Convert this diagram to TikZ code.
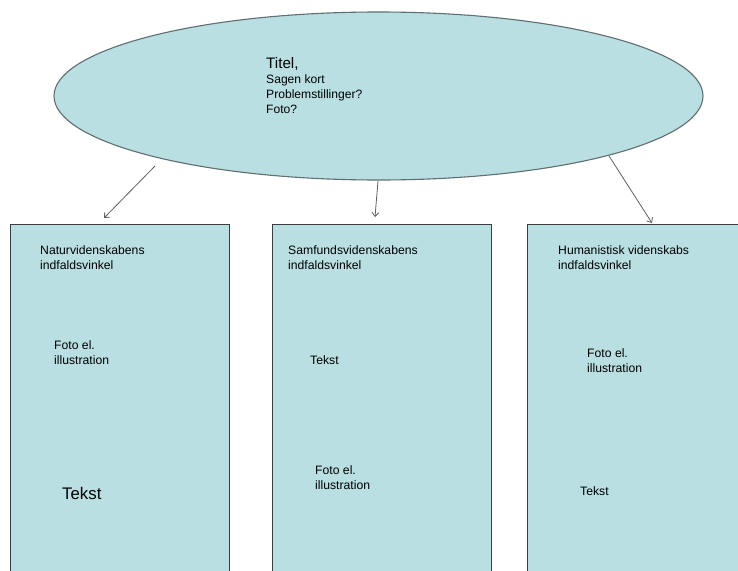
\documentclass[tikz,border=0pt]{standalone}
\usepackage{fontspec}
\setmainfont{Liberation Sans}
\usetikzlibrary{arrows.meta,shapes.geometric}
\definecolor{panelfill}{RGB}{185,223,227}
\definecolor{panelline}{RGB}{58,62,64}
\definecolor{ellline}{RGB}{95,110,112}
\definecolor{arrowgray}{RGB}{95,95,95}
\begin{document}
\begin{tikzpicture}[x=1pt,y=-1pt,
  panelbox/.style={draw=panelline,fill=panelfill,line width=1.1pt,rectangle,inner sep=0pt,anchor=north west},
  topicell/.style={draw=ellline,fill=panelfill,line width=1.1pt,ellipse,inner sep=0pt},
  lbl/.style={anchor=north west,inner sep=0pt,align=left,font=\fontsize{12.2}{15}\selectfont},
  elllbl/.style={anchor=north west,inner sep=0pt,align=left,font=\fontsize{12.1}{15}\selectfont},
  conn/.style={draw=arrowgray,line width=0.8pt,-{Straight Barb[length=4pt,width=7pt]}}]
\useasboundingbox (0,0) rectangle (738,570);
\clip (0,0) rectangle (738,570);
\fill[white] (0,0) rectangle (738,570);

% top ellipse
\node[topicell,minimum width=649pt,minimum height=168pt] (topic) at (378.5,96) {};
\node[anchor=north west,inner sep=0pt,font=\fontsize{15.2}{18}\selectfont] (titel) at (266,57.5) {Titel,};
\node[elllbl] (sagen) at (266,74.5) {Sagen kort\\Problemstillinger?\\Foto?};

% panels
\node[panelbox,minimum width=219pt,minimum height=400pt] (nat) at (10,224) {};
\node[panelbox,minimum width=219pt,minimum height=400pt] (sam) at (272,224) {};
\node[panelbox,minimum width=320pt,minimum height=400pt] (hum) at (527,224) {};

% panel texts
\node[lbl] (natT) at (40,245.5) {Naturvidenskabens\\indfaldsvinkel};
\node[lbl] (natF) at (54,340.5) {Foto el.\\illustration};
\node[anchor=north west,inner sep=0pt,font=\fontsize{16.8}{20}\selectfont] (natX) at (62,487.5) {Tekst};

\node[lbl] (samT) at (288,245.5) {Samfundsvidenskabens\\indfaldsvinkel};
\node[lbl] (samX) at (310,355) {Tekst};
\node[lbl] (samF) at (315,465) {Foto el.\\illustration};

\node[lbl] (humT) at (558,245.5) {Humanistisk videnskabs\\indfaldsvinkel};
\node[lbl] (humF) at (587,348) {Foto el.\\illustration};
\node[lbl] (humX) at (580,486) {Tekst};

% connectors
\coordinate (s1) at (155,166);
\coordinate (e1) at (104,218);
\coordinate (s2) at (378,181);
\coordinate (e2) at (375,217);
\coordinate (s3) at (609,156);
\coordinate (e3) at (652,223);
\draw[conn] (s1) -- (e1);
\draw[conn] (s2) -- (e2);
\draw[conn] (s3) -- (e3);
\end{tikzpicture}
\end{document}
